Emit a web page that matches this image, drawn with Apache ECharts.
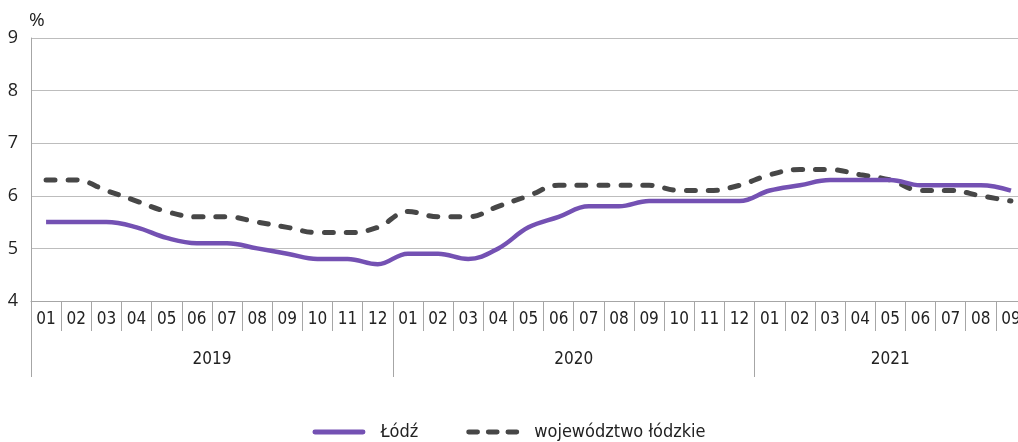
<!DOCTYPE html>
<html>
<head>
<meta charset="utf-8">
<script src="https://cdn.jsdelivr.net/npm/echarts@6/dist/echarts.min.js"></script>
<style>
  html, body { margin: 0; padding: 0; background: #fff; }
  #chart { width: 1018px; height: 442px; }
</style>
</head>
<body>
<div id="chart"></div>
<script>
// miesiące 2019-01 .. 2021-09
var months = ['01','02','03','04','05','06','07','08','09','10','11','12',
              '01','02','03','04','05','06','07','08','09','10','11','12',
              '01','02','03','04','05','06','07','08','09'];
var years = ['2019', '2020', '2021'];
var yearStarts = [0, 12, 24];      // indeks pierwszego miesiąca roku
var yearCenters = [6, 18, 28.5];   // środek roku na osi miesięcy

var lodz = [5.5, 5.5, 5.5, 5.4, 5.2, 5.1, 5.1, 5.0, 4.9, 4.8, 4.8, 4.7,
            4.9, 4.9, 4.8, 5.0, 5.4, 5.6, 5.8, 5.8, 5.9, 5.9, 5.9, 5.9,
            6.1, 6.2, 6.3, 6.3, 6.3, 6.2, 6.2, 6.2, 6.1];
var woj = [6.3, 6.3, 6.1, 5.9, 5.7, 5.6, 5.6, 5.5, 5.4, 5.3, 5.3, 5.4,
           5.7, 5.6, 5.6, 5.8, 6.0, 6.2, 6.2, 6.2, 6.2, 6.1, 6.1, 6.2,
           6.4, 6.5, 6.5, 6.4, 6.3, 6.1, 6.1, 6.0, 5.9];
var yTicks = [4, 5, 6, 7, 8, 9];

var narrow = "'Liberation Sans Narrow', 'DejaVu Sans Condensed', 'Roboto', sans-serif";
var gray = '#a6a6a6';
var purple = '#7451b3';
var dark = '#474747';

var option = {
  animation: false,
  grid: { left: 31, width: 995, top: 38, bottom: 141, outerBoundsMode: 'none' },
  legend: {
    bottom: -4,
    left: 'center',
    itemWidth: 53,
    itemHeight: 5,
    itemGap: 48,
    textStyle: { fontFamily: narrow, fontSize: 18, color: '#222', padding: [0, 0, 0, 10] },
    data: [
      { name: 'Łódź', icon: 'path://M2,0H51A2,2,0,0,1,51,5H2A2,2,0,0,1,2,0Z', itemStyle: { color: purple } },
      { name: 'województwo łódzkie',
        icon: 'path://M2,0H11A2,2,0,0,1,11,5H2A2,2,0,0,1,2,0Z M22,0H31A2,2,0,0,1,31,5H22A2,2,0,0,1,22,0Z M42,0H51A2,2,0,0,1,51,5H42A2,2,0,0,1,42,0Z',
        itemStyle: { color: dark } }
    ]
  },
  xAxis: [
    {
      type: 'category',
      data: months,
      boundaryGap: true,
      axisLine: { show: true, lineStyle: { color: gray } },
      axisTick: { show: true, interval: 0, length: 30, lineStyle: { color: gray } },
      axisLabel: { interval: 0, fontFamily: narrow, fontSize: 17, color: '#222', margin: 10 }
    },
    {
      type: 'value',
      min: 0,
      max: months.length,
      position: 'bottom',
      offset: 30,
      axisLine: { show: false },
      splitLine: { show: false },
      axisTick: { show: true, length: 46, customValues: yearStarts, lineStyle: { color: gray } },
      axisLabel: {
        customValues: yearCenters,
        fontFamily: narrow, fontSize: 17, color: '#222', margin: 20,
        formatter: function (v) { return years[yearCenters.indexOf(v)]; }
      }
    }
  ],
  yAxis: {
    type: 'value',
    min: yTicks[0],
    max: yTicks[yTicks.length - 1],
    interval: 1,
    name: '%',
    nameGap: 8,
    nameTextStyle: { fontFamily: "'Open Sans', sans-serif", fontSize: 19, color: '#222', align: 'left', padding: [0, 0, 0, -2] },
    axisLine: { show: true, lineStyle: { color: gray } },
    axisTick: { show: false },
    axisLabel: { fontFamily: "'Open Sans', sans-serif", fontSize: 18, color: '#222', margin: 13 },
    splitLine: { lineStyle: { color: '#bdbdbd' } }
  },
  series: [
    {
      name: 'województwo łódzkie',
      type: 'line',
      data: woj,
      smooth: 0.4,
      symbol: 'none',
      lineStyle: { color: dark, width: 5, type: [9, 13], cap: 'round' },
      itemStyle: { color: dark }
    },
    {
      name: 'Łódź',
      type: 'line',
      data: lodz,
      smooth: 0.4,
      symbol: 'none',
      lineStyle: { color: purple, width: 4.5 },
      itemStyle: { color: purple }
    }
  ]
};

var chart = echarts.init(document.getElementById('chart'));
chart.setOption(option);
</script>
</body>
</html>
